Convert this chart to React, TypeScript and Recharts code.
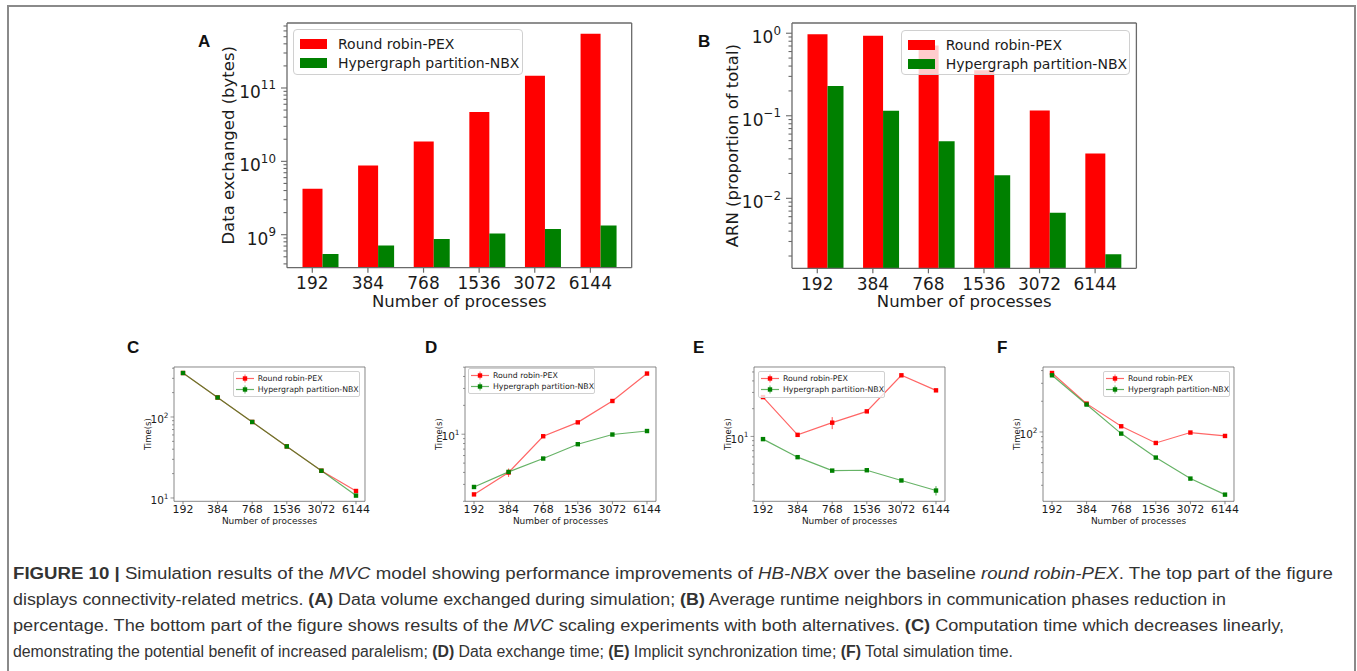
import React from 'react';
import { BarChart, Bar, LineChart, Line, XAxis, YAxis, Legend, ErrorBar } from 'recharts';

// number of processes (x categories, shared by all panels)
const processes = ['192', '384', '768', '1536', '3072', '6144'];

// (A) data exchanged, bytes
const bytesRoundRobin = [4.24e9, 8.8e9, 1.87e10, 4.71e10, 1.47e11, 5.5e11];
const bytesHypergraph = [5.46e8, 7.15e8, 8.73e8, 1.04e9, 1.2e9, 1.33e9];
// (B) ARN, proportion of total
const arnRoundRobin = [0.97, 0.93, 0.71, 0.355, 0.116, 0.035];
const arnHypergraph = [0.23, 0.115, 0.049, 0.019, 0.0067, 0.0021];

// (C) computation time, s
const computeRoundRobin = [349, 174, 86.8, 43.3, 21.7, 12.2];
const computeHypergraph = [349, 174, 86.8, 43.3, 21.7, 10.7];
// (D) data exchange time, s
const exchangeRoundRobin = [2.36, 3.99, 9.53, 13.3, 22.2, 42.9];
const exchangeHypergraph = [2.82, 4.05, 5.58, 7.87, 9.93, 10.8];
const exchangeRoundRobinErr = [0.05, 0.4, 0.1, 0.1, 0.1, 0.2];
const exchangeHypergraphErr = [0.03, 0.05, 0.05, 0.05, 0.05, 0.05];
// (E) implicit synchronization time, s
const syncRoundRobin = [26.7, 10.4, 14.1, 18.7, 46.0, 31.6];
const syncHypergraph = [9.35, 5.96, 4.26, 4.3, 3.33, 2.59];
const syncRoundRobinErr = [0.3, 0.3, 2.1, 0.4, 0.5, 0.5];
const syncHypergraphErr = [0.1, 0.1, 0.1, 0.1, 0.05, 0.3];
// (F) total simulation time, s
const totalRoundRobin = [378.6, 189.6, 113.7, 78, 98.7, 91.4];
const totalHypergraph = [359.5, 185.7, 96.4, 56.1, 34.9, 24.3];

// axis ranges (log axes)
const bytesDomain = [3.55e8, 7.69e11];
const arnDomain = [1.42e-3, 1.33];
const computeDomain = [9.1, 414];
const exchangeDomain = [2.0, 50.2];
const syncDomain = [1.98, 56.6];
const totalDomain = [20.9, 433.6];

const RR = 'Round robin-PEX';
const HB = 'Hypergraph partition-NBX';
const ORDER = ['rr', 'hb'];
const AXIS = '#6a6a6a';
const INK = '#1b1b1b';
const MPL = '"DejaVu Sans", sans-serif';

// major decades plus the 2..9 minor ticks inside a log domain
function logTicks(domain: number[]) {
  const out: number[] = [];
  const lo = Math.floor(Math.log10(domain[0]));
  const hi = Math.ceil(Math.log10(domain[1]));
  for (let e = lo; e <= hi; e++) {
    for (let k = 1; k < 10; k++) {
      const v = parseFloat((k * Math.pow(10, e)).toPrecision(6));
      if (v >= domain[0] && v <= domain[1]) out.push(v);
    }
  }
  return out;
}

function logYTick(fs: number, major: number, minor: number, gap: number, sw: number) {
  return (props: any) => {
    const { x, y, payload, index } = props;
    const lg = Math.log10(payload.value);
    const e = Math.round(lg);
    const isMajor = Math.abs(lg - e) < 1e-4;
    const len = isMajor ? major : minor;
    return (
      <g key={`t-${index}`}>
        <line x1={x - len} x2={x} y1={y} y2={y} stroke={AXIS} strokeWidth={sw} />
        {isMajor && (
          <text x={x - len - gap} y={y + fs * 0.58} textAnchor="end" fontSize={fs} fill={INK} fontFamily={MPL}>
            10
            <tspan dy={-fs * 0.5} fontSize={fs * 0.7}>{e < 0 ? `\u2212${-e}` : `${e}`}</tspan>
          </text>
        )}
      </g>
    );
  };
}

function catXTick(fs: number, len: number, base: number, shift: number, sw: number) {
  return (props: any) => {
    const { x, y, payload, index } = props;
    const cx = x + shift;
    return (
      <g key={`x-${index}`}>
        <line x1={cx} x2={cx} y1={y} y2={y + len} stroke={AXIS} strokeWidth={sw} />
        <text x={cx} y={y + base} textAnchor="middle" fontSize={fs} fill={INK} fontFamily={MPL}>
          {payload.value}
        </text>
      </g>
    );
  };
}

const ordered = (payload: any[] = []) =>
  [...payload].sort((a, b) => ORDER.indexOf(a.dataKey) - ORDER.indexOf(b.dataKey));

function barLegend(w: number, h: number) {
  return (props: any) => (
    <div
      style={{
        width: w,
        height: h,
        boxSizing: 'border-box',
        background: 'rgba(255,255,255,0.8)',
        border: '1px solid #d0d0d0',
        borderRadius: 4,
        padding: '4px 0 0 6px',
        fontFamily: MPL,
        fontSize: 14,
        color: INK,
      }}
    >
      {ordered(props.payload).map((p: any, i: number) => (
        <div key={i} style={{ display: 'flex', alignItems: 'center', height: 19.5 }}>
          <span style={{ width: 27, height: 10, background: p.color, marginRight: 11, display: 'inline-block' }} />
          <span>{p.value}</span>
        </div>
      ))}
    </div>
  );
}

function lineLegend(w: number, h: number) {
  return (props: any) => (
    <div
      style={{
        width: w,
        height: h,
        boxSizing: 'border-box',
        background: 'rgba(255,255,255,0.8)',
        border: '1px solid #d0d0d0',
        borderRadius: 2,
        padding: '1.5px 0 0 2px',
        fontFamily: MPL,
        fontSize: 7.8,
        color: INK,
        whiteSpace: 'nowrap',
      }}
    >
      {ordered(props.payload).map((p: any, i: number) => (
        <div key={i} style={{ display: 'flex', alignItems: 'center', height: 11 }}>
          <svg width={18} height={11} style={{ marginRight: 4 }}>
            <line x1={0} x2={18} y1={5.5} y2={5.5} stroke={p.color} strokeOpacity={0.6} strokeWidth={1.2} />
            <line x1={9} x2={9} y1={1.5} y2={9.5} stroke={p.color} strokeOpacity={0.6} strokeWidth={1} />
            <rect x={6.8} y={3.3} width={4.4} height={4.4} fill={p.color} />
          </svg>
          <span>{p.value}</span>
        </div>
      ))}
    </div>
  );
}

type Plot = { left: number; top: number; width: number; height: number };

function BarPanel(props: {
  plot: Plot;
  rr: number[];
  hb: number[];
  domain: number[];
  yLabel: string;
  yw: number;
  legend: Plot;
}) {
  const { plot, rr, hb, domain, yLabel, yw, legend } = props;
  const xh = 46;
  const mt = 2;
  const mr = 4;
  const rows = processes.map((p, i) => ({ p, rr: rr[i], hb: hb[i] }));
  const left = plot.left - yw;
  const top = plot.top - mt - 1;
  const spine = { stroke: AXIS, strokeWidth: 1.3 };
  return (
    <div style={{ position: 'absolute', left, top }}>
      <BarChart
        width={yw + plot.width + 1 + mr}
        height={mt + 1 + plot.height + xh}
        data={rows}
        margin={{ top: mt, right: mr, left: 0, bottom: 0 }}
        barGap={0}
      >
        <XAxis
          dataKey="p"
          type="category"
          padding={{ left: 5.5, right: 5.5 }}
          height={xh}
          interval={0}
          tickSize={0}
          tickMargin={0}
          tickLine={false}
          axisLine={spine}
          tick={catXTick(17, 5, 21.5, -8, 1.2)}
          label={{ value: 'Number of processes', position: 'insideBottom', offset: 7, fontSize: 16.5, fill: INK, fontFamily: MPL }}
        />
        <XAxis xAxisId="top" orientation="top" dataKey="p" height={1} tick={false} tickLine={false} axisLine={spine} />
        <YAxis
          type="number"
          scale="log"
          domain={domain}
          allowDataOverflow
          ticks={logTicks(domain)}
          interval={0}
          width={yw}
          tickSize={0}
          tickMargin={0}
          tickLine={false}
          axisLine={spine}
          tick={logYTick(17, 6, 3.5, 5, 1.1)}
          label={{ value: yLabel, angle: -90, position: 'center', fontSize: 16.5, fill: INK, fontFamily: MPL }}
        />
        <YAxis yAxisId="right" orientation="right" width={1} tick={false} tickLine={false} axisLine={spine} />
        <Bar dataKey="rr" name={RR} fill="#ff0000" barSize={20} isAnimationActive={false} />
        <Bar dataKey="hb" name={HB} fill="#008000" barSize={16} isAnimationActive={false} />
        <Legend
          layout="horizontal"
          verticalAlign="middle"
          align="center"
          wrapperStyle={{ left: legend.left - left, top: legend.top - top, width: legend.width, height: legend.height }}
          content={barLegend(legend.width, legend.height)}
        />
      </BarChart>
    </div>
  );
}

function square(color: string) {
  return (p: any) => <rect key={`d-${p.index}`} x={p.cx - 2.2} y={p.cy - 2.2} width={4.4} height={4.4} fill={color} />;
}

function LinePanel(props: {
  left: number;
  rr: number[];
  hb: number[];
  rrErr?: number[];
  hbErr?: number[];
  domain: number[];
  legend: Plot;
}) {
  const { rr, hb, rrErr, hbErr, domain, legend } = props;
  const plot = { left: props.left, top: 366.7, width: 191, height: 134.3 };
  const yw = 53;
  const xh = 24;
  const mt = 2;
  const mr = 16;
  const rows = processes.map((p, i) => ({
    p,
    rr: rr[i],
    hb: hb[i],
    rrErr: rrErr ? rrErr[i] : 0,
    hbErr: hbErr ? hbErr[i] : 0,
  }));
  const left = plot.left - yw;
  const top = plot.top - mt - 1;
  const spine = { stroke: AXIS, strokeWidth: 0.8 };
  return (
    <div style={{ position: 'absolute', left, top }}>
      <LineChart
        width={yw + plot.width + 1 + mr}
        height={mt + 1 + plot.height + xh}
        data={rows}
        margin={{ top: mt, right: mr, left: 0, bottom: 0 }}
      >
        <XAxis
          dataKey="p"
          type="category"
          padding={{ left: 9, right: 9 }}
          height={xh}
          interval={0}
          tickSize={0}
          tickMargin={0}
          tickLine={false}
          axisLine={spine}
          tick={catXTick(11, 3, 12, 0, 0.8)}
          label={{ value: 'Number of processes', position: 'insideBottom', offset: 1.5, fontSize: 9, fill: INK, fontFamily: MPL }}
        />
        <XAxis xAxisId="top" orientation="top" dataKey="p" height={1} tick={false} tickLine={false} axisLine={spine} />
        <YAxis
          type="number"
          scale="log"
          domain={domain}
          allowDataOverflow
          ticks={logTicks(domain)}
          interval={0}
          width={yw}
          tickSize={0}
          tickMargin={0}
          tickLine={false}
          axisLine={spine}
          tick={logYTick(10.5, 3.5, 2, 2, 0.7)}
          label={{ value: 'Time(s)', angle: -90, position: 'center', fontSize: 8.5, fill: INK, fontFamily: MPL }}
        />
        <YAxis yAxisId="right" orientation="right" width={1} tick={false} tickLine={false} axisLine={spine} />
        <Line
          dataKey="rr"
          name={RR}
          stroke="#ff0000"
          strokeOpacity={0.6}
          strokeWidth={1.2}
          dot={square('#ff0000')}
          isAnimationActive={false}
        >
          <ErrorBar dataKey="rrErr" width={0} stroke="#ff0000" strokeOpacity={0.7} strokeWidth={1} direction="y" />
        </Line>
        <Line
          dataKey="hb"
          name={HB}
          stroke="#008000"
          strokeOpacity={0.6}
          strokeWidth={1.2}
          dot={square('#008000')}
          isAnimationActive={false}
        >
          <ErrorBar dataKey="hbErr" width={0} stroke="#008000" strokeOpacity={0.7} strokeWidth={1} direction="y" />
        </Line>
        <Legend
          layout="horizontal"
          verticalAlign="middle"
          align="center"
          wrapperStyle={{ left: legend.left - left, top: legend.top - top, width: legend.width, height: legend.height }}
          content={lineLegend(legend.width, legend.height)}
        />
      </LineChart>
    </div>
  );
}

const CAP = '"Liberation Sans", Arial, sans-serif';

function Caption() {
  const b = (t: string) => <tspan fontWeight="bold">{t}</tspan>;
  const i = (t: string) => <tspan fontStyle="italic">{t}</tspan>;
  const common = { x: 13, fontSize: 16, fill: '#333', fontFamily: CAP, lengthAdjust: 'spacingAndGlyphs' as const };
  return (
    <g>
      <text {...common} y={579} textLength={1320}>
        {b('FIGURE 10 | ')}Simulation results of the {i('MVC')} model showing performance improvements of {i('HB-NBX')} over
        the baseline {i('round robin-PEX')}. The top part of the figure
      </text>
      <text {...common} y={605} textLength={1213}>
        displays connectivity-related metrics. {b('(A)')} Data volume exchanged during simulation; {b('(B)')} Average runtime
        neighbors in communication phases reduction in
      </text>
      <text {...common} y={631} textLength={1271}>
        percentage. The bottom part of the figure shows results of the {i('MVC')} scaling experiments with both alternatives.{' '}
        {b('(C)')} Computation time which decreases linearly,
      </text>
      <text {...common} y={657} textLength={1000}>
        demonstrating the potential benefit of increased paralelism; {b('(D)')} Data exchange time; {b('(E)')} Implicit
        synchronization time; {b('(F)')} Total simulation time.
      </text>
    </g>
  );
}

export default function App() {
  const letter = { fontSize: 17, fontWeight: 'bold' as const, fill: '#111', fontFamily: '"Liberation Sans", Arial, sans-serif' };
  return (
    <div style={{ position: 'absolute', left: 0, top: 0, width: 1357, height: 671, overflow: 'hidden', background: '#fff' }}>
      <div
        style={{
          position: 'absolute',
          left: 7,
          top: 5,
          width: 1349,
          height: 720,
          boxSizing: 'border-box',
          border: '2px solid #8a8a8a',
        }}
      />
      <svg width={1357} height={671} style={{ position: 'absolute', left: 0, top: 0 }}>
        <text x={198} y={47} {...letter}>A</text>
        <text x={698} y={47} {...letter}>B</text>
        <text x={127} y={353} {...letter}>C</text>
        <text x={425} y={353} {...letter}>D</text>
        <text x={693} y={353} {...letter}>E</text>
        <text x={997} y={353} {...letter}>F</text>
        <Caption />
      </svg>

      <BarPanel
        plot={{ left: 287, top: 23.3, width: 344.7, height: 244.7 }}
        rr={bytesRoundRobin}
        hb={bytesHypergraph}
        domain={bytesDomain}
        yLabel="Data exchanged  (bytes)"
        yw={118}
        legend={{ left: 293, top: 29, width: 230, height: 46 }}
      />
      <BarPanel
        plot={{ left: 792.3, top: 23, width: 344.4, height: 245.3 }}
        rr={arnRoundRobin}
        hb={arnHypergraph}
        domain={arnDomain}
        yLabel="ARN (proportion of total)"
        yw={120}
        legend={{ left: 900.7, top: 30, width: 229.3, height: 45 }}
      />

      <LinePanel
        left={173.5}
        rr={computeRoundRobin}
        hb={computeHypergraph}
        domain={computeDomain}
        legend={{ left: 232.7, top: 371, width: 127.3, height: 26 }}
      />
      <LinePanel
        left={464.5}
        rr={exchangeRoundRobin}
        hb={exchangeHypergraph}
        rrErr={exchangeRoundRobinErr}
        hbErr={exchangeHypergraphErr}
        domain={exchangeDomain}
        legend={{ left: 468, top: 368, width: 127, height: 26 }}
      />
      <LinePanel
        left={753.5}
        rr={syncRoundRobin}
        hb={syncHypergraph}
        rrErr={syncRoundRobinErr}
        hbErr={syncHypergraphErr}
        domain={syncDomain}
        legend={{ left: 758, top: 371, width: 127, height: 27 }}
      />
      <LinePanel
        left={1042.5}
        rr={totalRoundRobin}
        hb={totalHypergraph}
        domain={totalDomain}
        legend={{ left: 1103, top: 371, width: 127, height: 26 }}
      />
    </div>
  );
}
